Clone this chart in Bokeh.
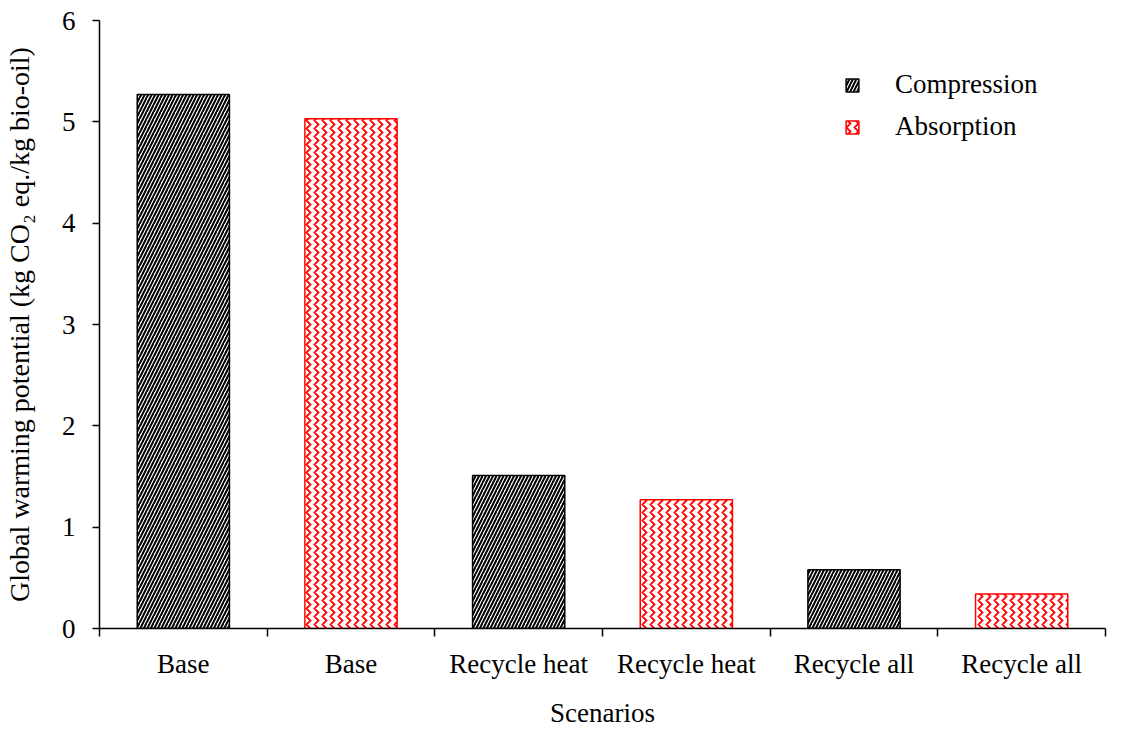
from bokeh.plotting import figure
from bokeh.models import ColumnDataSource, FixedTicker, Range1d, Legend, LegendItem
from bokeh.embed import file_html
from bokeh.resources import INLINE

# ---- data ----
scenarios = ["Base", "Recycle heat", "Recycle all"]
compression = [5.27, 1.51, 0.58]
absorption = [5.03, 1.27, 0.34]
series_names = ["Compression", "Absorption"]
y_ticks = [0, 1, 2, 3, 4, 5, 6]

FONT = "Times New Roman"

n = len(scenarios)
comp_x = [2 * i + 0.5 for i in range(n)]
abs_x = [2 * i + 1.5 for i in range(n)]
centers = sorted(comp_x + abs_x)
labels = {}
for i, s in enumerate(scenarios):
    labels[comp_x[i]] = s
    labels[abs_x[i]] = s
boundaries = list(range(0, 2 * n + 1))

p = figure(width=1110, height=730, output_backend="svg", toolbar_location=None,
           x_range=Range1d(0, 2 * n), y_range=Range1d(0, 6),
           min_border_left=97, min_border_right=5, min_border_top=20, min_border_bottom=100)
p.outline_line_color = None
p.xgrid.grid_line_color = None
p.ygrid.grid_line_color = None
p.background_fill_color = "white"

src_c = ColumnDataSource(dict(x=comp_x, top=compression))
src_a = ColumnDataSource(dict(x=abs_x, top=absorption))

r1 = p.vbar(x="x", top="top", width=0.55, source=src_c,
            fill_color="white", line_color="black", line_width=1.5,
            hatch_pattern="/", hatch_color="black", hatch_scale=7, hatch_weight=2.0)
r2 = p.vbar(x="x", top="top", width=0.55, source=src_a,
            fill_color="white", line_color="red", line_width=1.5,
            hatch_pattern=">", hatch_color="red", hatch_scale=8, hatch_weight=1.8)

# x axis
xa = p.xaxis[0]
xa.ticker = FixedTicker(ticks=centers, minor_ticks=boundaries)
xa.major_label_overrides = labels
xa.major_tick_line_color = None
xa.major_tick_out = 0
xa.major_tick_in = 0
xa.minor_tick_out = 8
xa.minor_tick_in = 0
xa.minor_tick_line_color = "black"
xa.minor_tick_line_width = 1.5
xa.axis_line_color = "black"
xa.axis_line_width = 1.5
xa.major_label_standoff = 12
xa.major_label_text_font = FONT
xa.major_label_text_font_size = "27px"
xa.major_label_text_color = "black"
xa.axis_label = "Scenarios"
xa.axis_label_text_font = FONT
xa.axis_label_text_font_size = "27px"
xa.axis_label_text_font_style = "normal"
xa.axis_label_text_color = "black"
xa.axis_label_standoff = 16

# y axis
ya = p.yaxis[0]
ya.ticker = FixedTicker(ticks=y_ticks)
ya.minor_tick_line_color = None
ya.major_tick_out = 7
ya.major_tick_in = 0
ya.major_tick_line_width = 1.5
ya.major_tick_line_color = "black"
ya.axis_line_color = "black"
ya.axis_line_width = 1.5
ya.major_label_standoff = 17
ya.major_label_text_font = FONT
ya.major_label_text_font_size = "27px"
ya.major_label_text_color = "black"
ya.axis_label = "Global warming potential (kg CO\u2082 eq./kg bio-oil)"
ya.axis_label_text_font = FONT
ya.axis_label_text_font_size = "28px"
ya.axis_label_text_font_style = "normal"
ya.axis_label_text_color = "black"
ya.axis_label_standoff = 24

legend = Legend(items=[LegendItem(label=series_names[0], renderers=[r1]),
                       LegendItem(label=series_names[1], renderers=[r2])],
                location=(745, 486), orientation="vertical",
                glyph_width=16, glyph_height=16, label_standoff=35,
                spacing=11, padding=0, margin=0,
                border_line_color=None, background_fill_alpha=0,
                label_text_font=FONT, label_text_font_size="27px",
                label_text_color="black")
p.add_layout(legend)

open("out.html", "w").write(file_html(p, INLINE))
